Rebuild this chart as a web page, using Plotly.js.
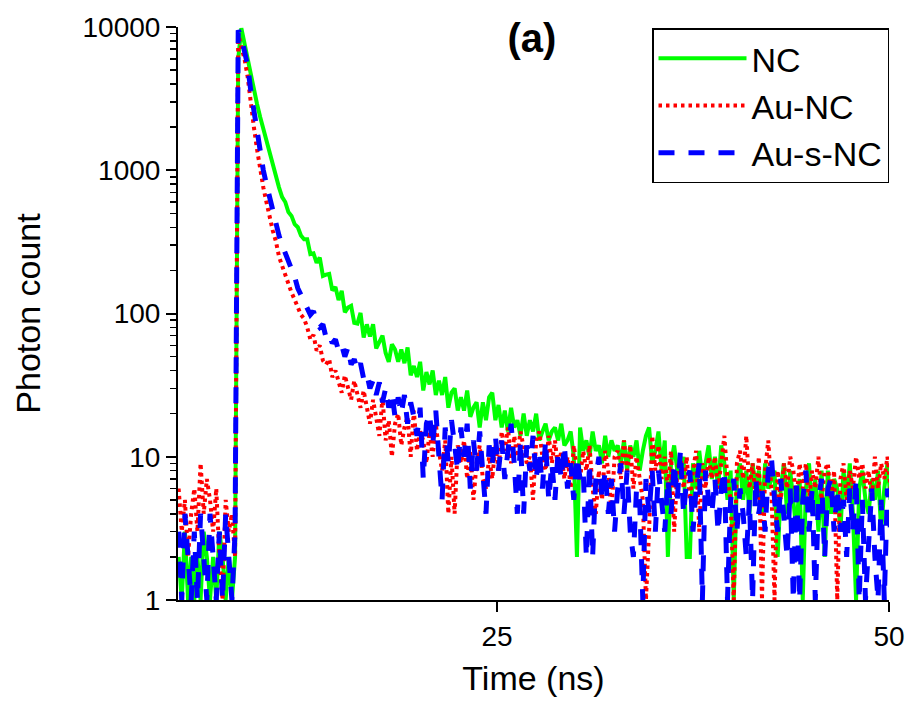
<!DOCTYPE html>
<html>
<head>
<meta charset="utf-8">
<script src="https://cdn.plot.ly/plotly-3.0.1.min.js"></script>
<style>
  html, body { margin: 0; padding: 0; background: #ffffff; }
  #chart { width: 907px; height: 703px; }
</style>
</head>
<body>
<div id="chart"></div>
<script>
// Time axis: first channel and channel width (ns)
const timeStart = 4.7;
const timeStep = 0.2;

const seriesNames = ['NC', 'Au-NC', 'Au-s-NC'];

// Photon counts per channel
const countsNC = [
  2, 1, 3, 1, 2, 1, 2, 1, 3, 2,
  1, 2, 1, 3, 2, 1, 2, 1, 2, 6000,
  9800, 7600, 5900, 4700, 3600, 2900, 2350, 1950, 1600, 1300,
  1050, 880, 760, 650, 600, 510, 480, 420, 400, 350,
  330, 330, 260, 263, 226, 246, 183, 187, 189, 145,
  153, 124, 144, 102, 110, 113, 86, 85, 101, 68,
  84, 69, 84, 57, 64, 70, 53, 46, 61, 56,
  46, 56, 45, 58, 37, 43, 36, 46, 29, 39,
  32, 40, 27, 34, 27, 36, 22, 28, 30, 21,
  26, 21, 29, 19, 22, 24, 16, 24, 18, 26,
  28, 18, 23, 16, 21, 15, 22, 16, 18, 14,
  20, 14, 18, 15, 20, 13, 15, 17, 13, 15,
  16, 13, 17, 12, 13, 15, 10, 2, 16, 11,
  13, 10, 15, 11, 12, 9, 14, 10, 13, 11,
  12, 9, 13, 8, 12, 10, 13, 8, 11, 14,
  16, 9, 11, 15, 8, 13, 2, 9, 12, 8,
  7, 10, 2, 2, 9, 6, 11, 7, 9, 12,
  7, 10, 6, 12, 9, 5, 8, 1, 7, 9,
  5, 8, 4, 9, 6, 8, 4, 9, 6, 7,
  8, 2, 6, 9, 4, 8, 5, 3, 7, 1,
  6, 9, 4, 7, 3, 8, 2, 8, 4, 7,
  6, 3, 8, 5, 9, 4, 1, 6, 8, 5,
  4, 7, 5, 8, 3, 6, 9, 5, 7, 4
];

const countsAuNC = [
  6, 3, 5, 2, 4, 6, 3, 9, 4, 7,
  5, 3, 6, 2, 1, 5, 3, 4, 2, 9000,
  7200, 6000, 4500, 2900, 2000, 1400, 1000, 760, 600, 470,
  380, 320, 250, 215, 185, 160, 140, 125, 112, 98,
  92, 80, 66, 71, 55, 60, 47, 44, 48, 36,
  40, 33, 28, 37, 30, 25, 34, 27, 22, 29,
  23, 17, 25, 19, 14, 26, 13, 18, 10, 17,
  20, 12, 16, 19, 10, 21, 11, 15, 13, 9,
  15, 10, 17, 11, 8, 13, 4, 10, 4, 12,
  9, 13, 7, 11, 5, 9, 12, 7, 6, 10,
  7, 12, 8, 15, 11, 16, 9, 14, 10, 15,
  12, 9, 10, 5, 13, 15, 10, 8, 14, 9,
  13, 8, 11, 7, 10, 6, 12, 8, 7, 11,
  8, 12, 6, 4, 8, 5, 11, 8, 4, 10,
  11, 7, 13, 8, 12, 6, 10, 7, 5, 1,
  3, 14, 8, 12, 7, 10, 6, 11, 3, 8,
  10, 6, 10, 5, 8, 11, 3, 9, 6, 10,
  7, 10, 6, 9, 14, 7, 5, 1, 9, 11,
  7, 14, 6, 9, 5, 10, 1, 8, 13, 6,
  1, 8, 5, 9, 6, 10, 8, 5, 9, 6,
  9, 5, 8, 6, 10, 5, 8, 9, 5, 8,
  1, 7, 9, 5, 8, 6, 10, 7, 9, 6,
  8, 5, 10, 6, 9, 7, 10, 6, 9, 7
];

const countsAuSNC = [
  3, 1, 4, 2, 1, 3, 1, 4, 2, 1,
  4, 2, 1, 3, 1, 4, 2, 1, 3, 9500,
  8500, 6800, 5400, 3600, 2600, 1800, 1250, 1000, 800, 650,
  500, 420, 350, 300, 265, 230, 205, 180, 150, 135,
  122, 112, 98, 104, 86, 80, 84, 68, 72, 62,
  66, 55, 60, 50, 58, 44, 48, 40, 45, 35,
  38, 30, 34, 27, 33, 24, 30, 22, 28, 19,
  26, 20, 27, 17, 24, 19, 14, 22, 7, 17,
  20, 12, 21, 10, 5, 16, 9, 18, 12, 8,
  16, 10, 17, 6, 13, 8, 15, 8, 4, 12,
  9, 14, 8, 13, 7, 11, 17, 9, 4, 13,
  4, 12, 8, 14, 7, 11, 6, 13, 5, 9,
  5, 11, 7, 12, 6, 9, 5, 10, 7, 8,
  2, 9, 2, 7, 10, 5, 8, 4, 7, 3,
  6, 9, 4, 8, 3, 2, 6, 5, 1, 7,
  4, 8, 3, 8, 5, 3, 7, 4, 9, 5,
  11, 4, 7, 8, 3, 6, 9, 1, 8, 5,
  4, 7, 3, 6, 8, 1, 5, 7, 3, 6,
  4, 2, 5, 1, 7, 4, 6, 3, 8, 10,
  5, 3, 7, 4, 2, 6, 1, 7, 1, 5,
  8, 3, 6, 1, 5, 7, 2, 6, 7, 3,
  6, 3, 5, 2, 6, 3, 7, 1, 5, 1,
  3, 6, 2, 1, 5, 1, 6, 3, 5, 2
];

const xTickVals = [25, 50];
const xTickText = ['25', '50'];
const yTickVals = [1, 10, 100, 1000, 10000];
const yTickText = ['1', '10', '100', '1000', '10000'];
const yMinorVals = [2,3,4,5,6,7,8,9, 20,30,40,50,60,70,80,90,
  200,300,400,500,600,700,800,900, 2000,3000,4000,5000,6000,7000,8000,9000];

const FONT = '"Liberation Sans", Arial, Helvetica, sans-serif';

const traces = [
  { type: 'scatter', mode: 'lines', name: seriesNames[0], y: countsNC,
    x0: timeStart, dx: timeStep,
    line: { color: '#00ff00', width: 4, dash: 'solid' } },
  { type: 'scatter', mode: 'lines', name: seriesNames[1], y: countsAuNC,
    x0: timeStart, dx: timeStep,
    line: { color: '#ff0000', width: 4, dash: '3.5px,4px' } },
  { type: 'scatter', mode: 'lines', name: seriesNames[2], y: countsAuSNC,
    x0: timeStart, dx: timeStep,
    line: { color: '#0000ff', width: 5, dash: '16px,14px' } }
];

const layout = {
  width: 907, height: 703,
  paper_bgcolor: '#ffffff', plot_bgcolor: '#ffffff',
  margin: { l: 178, r: 18, t: 27, b: 103 },
  font: { family: FONT, color: '#000000' },
  showlegend: true,
  title: {
    text: '<b>(a)</b>', font: { family: FONT, size: 40, color: '#000000' },
    x: 532 / 907, xanchor: 'center', xref: 'container',
    y: 1 - 38 / 703, yanchor: 'middle', yref: 'container'
  },
  legend: {
    x: 1.0, xanchor: 'right', y: 0.998, yanchor: 'top',
    bgcolor: '#ffffff', bordercolor: '#000000', borderwidth: 1.5,
    font: { family: FONT, size: 34, color: '#000000' },
    tracegroupgap: 0, itemwidth: 88
  },
  xaxis: {
    type: 'linear', range: [4.66, 50],
    tickmode: 'array', tickvals: xTickVals, ticktext: xTickText,
    ticks: 'outside', ticklen: 10, tickwidth: 2, tickcolor: '#000000',
    showline: true, linecolor: '#000000', linewidth: 2, mirror: false,
    showgrid: false, zeroline: false,
    tickfont: { family: FONT, size: 28, color: '#000000' },
    title: { text: 'Time (ns)', font: { family: FONT, size: 34, color: '#000000' }, standoff: 16 }
  },
  yaxis: {
    type: 'log', range: [0, 4],
    tickmode: 'array', tickvals: yTickVals, ticktext: yTickText,
    ticks: 'outside', ticklen: 10, tickwidth: 2, tickcolor: '#000000',
    minor: { tickmode: 'array', tickvals: yMinorVals, ticks: 'outside', ticklen: 6, tickwidth: 1.5, tickcolor: '#000000', showgrid: false },
    showline: true, linecolor: '#000000', linewidth: 2, mirror: false,
    showgrid: false, zeroline: false,
    tickfont: { family: FONT, size: 28, color: '#000000' },
    title: { text: 'Photon count', font: { family: FONT, size: 34, color: '#000000' }, standoff: 32 }
  }
};

Plotly.newPlot('chart', traces, layout, { displayModeBar: false, staticPlot: true });
</script>
</body>
</html>
